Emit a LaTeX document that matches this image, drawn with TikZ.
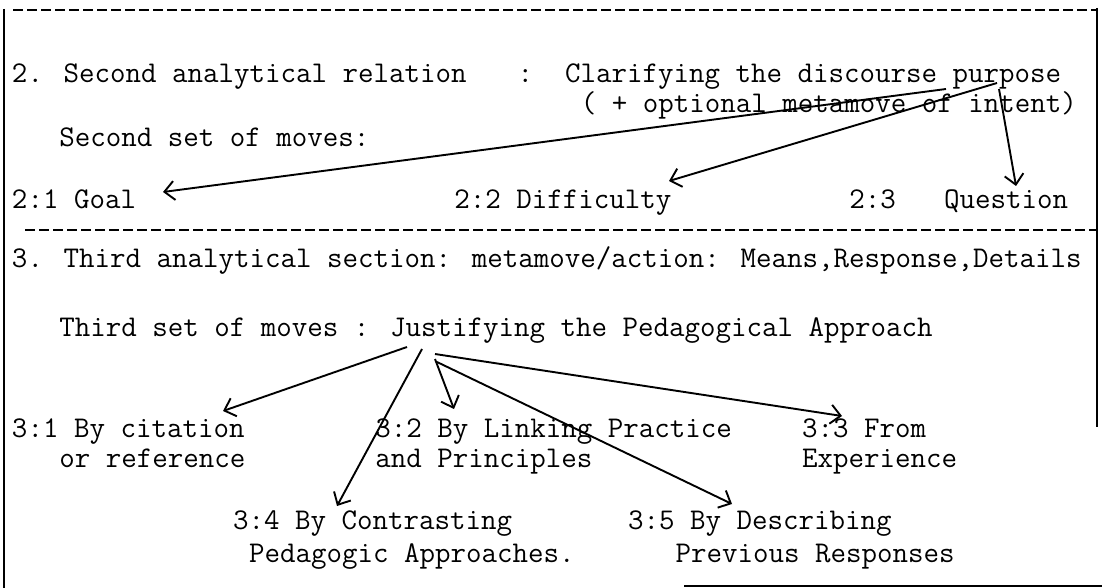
\documentclass[tikz,border=0pt]{standalone}
\usetikzlibrary{arrows.meta}
\begin{document}
\begin{tikzpicture}[x=1pt,y=-1pt,
  txt/.style={anchor=base west,inner sep=0pt,outer sep=0pt,font=\fontsize{30.1}{36}\selectfont\ttfamily},
  conn/.style={line width=1.9pt,-{Straight Barb[length=10pt,width=19pt,line width=1.9pt]}},
  frameline/.style={line width=2.8pt},
  sepline/.style={line width=2pt,dash pattern=on 10pt off 4pt}]
\useasboundingbox (0,0) rectangle (1102,588);
% frame
\coordinate (tl) at (4,9);
\coordinate (bl) at (4,588);
\coordinate (tr) at (1097,8);
\coordinate (br) at (1097,427);
\coordinate (bb1) at (684,586);
\coordinate (bb2) at (1102,586);
\coordinate (d1a) at (13,10);
\coordinate (d1b) at (1097,10);
\coordinate (d2a) at (25,230);
\coordinate (d2b) at (1097,230);
\draw[frameline] (tl) -- (bl);
\draw[frameline] (tr) -- (br);
\draw[line width=2.2pt] (bb1) -- (bb2);
\draw[sepline] (d1a) -- (d1b);
\draw[sepline] (d2a) -- (d2b);
% section 2
\node[txt] (r2) at (12,83) {2. Second analytical relation};
\node[txt] (colon) at ({12+32*15.8},83) {:};
\node[txt] (clar) at ({12+35*15.8},83) {Clarifying the discourse purpose};
\node[txt] (opt) at ({12+36*15.8},113) {( + optional metamove of intent)};
\node[txt] (set2) at ({12+3*15.8},147) {Second set of moves:};
\node[txt] (goal) at (12,208) {2:1 Goal};
\node[txt] (diff) at ({12+28*15.8},208) {2:2 Difficulty};
\node[txt] (qn) at ({12+53*15.8},208) {2:3};
\node[txt] (qw) at ({12+59*15.8},208) {Question};
% section 3
\node[txt] (r3) at (12,267) {3. Third analytical section: metamove/action: Means,Response,Details};
\node[txt] (set3) at ({12+3*15.8},336) {Third set of moves : Justifying the Pedagogical Approach};
\node[txt] (m31) at (12,437) {3:1 By citation};
\node[txt] (m31b) at ({12+3*15.8},467) {or reference};
\node[txt] (m32) at ({12+23*15.8},437) {3:2 By Linking Practice};
\node[txt] (m32b) at ({12+23*15.8},467) {and Principles};
\node[txt] (m33) at ({12+50*15.8},437) {3:3 From};
\node[txt] (m33b) at ({12+50*15.8},467) {Experience};
\node[txt] (m34) at ({12+14*15.8},529) {3:4 By Contrasting};
\node[txt] (m34b) at ({12+15*15.8},562) {Pedagogic Approaches.};
\node[txt] (m35) at ({12+39*15.8},529) {3:5 By Describing};
\node[txt] (m35b) at ({12+42*15.8},562) {Previous Responses};
% arrow end points
\coordinate (s21) at (946,89);
\coordinate (t21) at (163,192);
\coordinate (s22) at (997,83);
\coordinate (t22) at (669,181);
\coordinate (s23) at (999,89);
\coordinate (t23) at (1016,186);
\coordinate (s31) at (407,347);
\coordinate (t31) at (223,411);
\coordinate (s34) at (422,349);
\coordinate (t34) at (337,506);
\coordinate (s32) at (435,359);
\coordinate (t32) at (454,409);
\coordinate (s35) at (437,362);
\coordinate (t35) at (732,504);
\coordinate (s33) at (435,354);
\coordinate (t33) at (842,416);
\draw[conn] (s21) -- (t21);
\draw[conn] (s22) -- (t22);
\draw[conn] (s23) -- (t23);
\draw[conn] (s31) -- (t31);
\draw[conn] (s34) -- (t34);
\draw[conn] (s32) -- (t32);
\draw[conn] (s35) -- (t35);
\draw[conn] (s33) -- (t33);
\end{tikzpicture}
\end{document}
